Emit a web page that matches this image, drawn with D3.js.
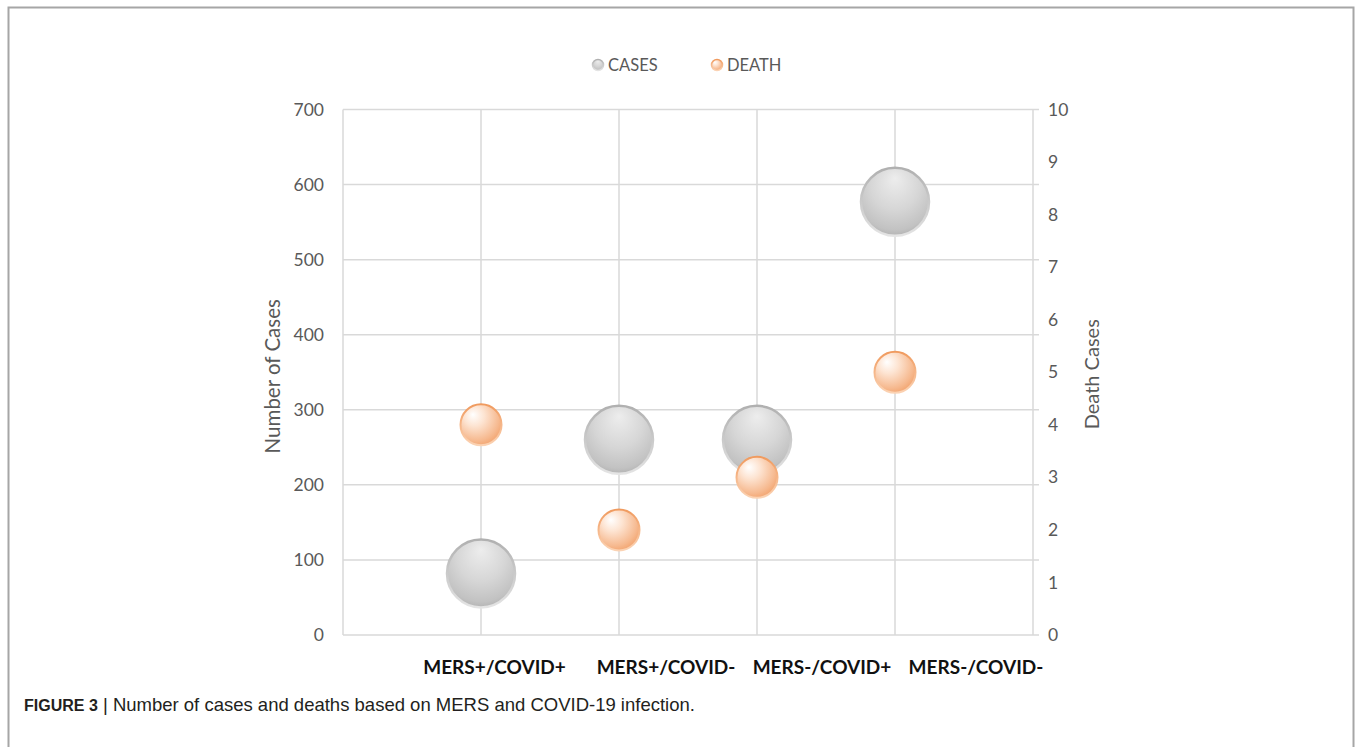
<!DOCTYPE html>
<html><head><meta charset="utf-8">
<script src="https://cdn.jsdelivr.net/npm/d3@7"></script>
<style>body{margin:0;background:#fff}svg{display:block}</style>
</head><body>
<svg id="c" width="1358" height="747"></svg>
<script>
const categories = ["MERS+/COVID+", "MERS+/COVID-", "MERS-/COVID+", "MERS-/COVID-"];
const categoryIndex = [1, 2, 3, 4];
const casesValues = [82, 260, 260, 577];
const deathValues = [4, 2, 3, 5];
const leftTicks = [0, 100, 200, 300, 400, 500, 600, 700];
const rightTicks = [0, 1, 2, 3, 4, 5, 6, 7, 8, 9, 10];
const seriesNames = ["CASES", "DEATH"];

const W = 1358, H = 747;
const plot = {l: 343, r: 1033, t: 109.5, b: 635};
const labelCenters = [494.5, 666, 822, 976]; // layout of category text boxes
const svg = d3.select("#c");
const defs = svg.append("defs");

function grad(id, stops, opts) {
  const g = defs.append("radialGradient").attr("id", id)
    .attr("cx", opts.cx).attr("cy", opts.cy).attr("r", opts.r)
    .attr("fx", opts.fx).attr("fy", opts.fy);
  stops.forEach(s => g.append("stop").attr("offset", s[0]).attr("stop-color", s[1]));
}
function lin(id, c1, c2) {
  const g = defs.append("linearGradient").attr("id", id).attr("x1", 0).attr("y1", 0).attr("x2", 0).attr("y2", 1);
  g.append("stop").attr("offset", 0).attr("stop-color", c1);
  g.append("stop").attr("offset", 1).attr("stop-color", c2);
}
grad("gGray", [[0, "#ededed"], [0.55, "#d6d6d6"], [0.9, "#c2c2c2"], [1, "#b4b4b4"]], {cx: "50%", cy: "35%", r: "65%", fx: "50%", fy: "15%"});
grad("gOrange", [[0, "#ffffff"], [0.35, "#fde4d2"], [0.8, "#f6b98f"], [1, "#f2a26c"]], {cx: "40%", cy: "35%", r: "70%", fx: "30%", fy: "25%"});
lin("sGray", "#b0b0b0", "#e4e4e4");
lin("sOrange", "#f09a5e", "#fbd3b4");

// frame
svg.append("rect").attr("x", 8.5).attr("y", 7.5).attr("width", 1345).attr("height", 760)
  .attr("fill", "none").attr("stroke", "#a6a6a6").attr("stroke-width", 2);

const x = d3.scaleLinear().domain([0, 5]).range([plot.l, plot.r]);
const yL = d3.scaleLinear().domain([0, 700]).range([plot.b, plot.t]);
const yR = d3.scaleLinear().domain([0, 10]).range([plot.b, plot.t]);

const grid = svg.append("g").attr("stroke", "#d9d9d9").attr("stroke-width", 1.5);
grid.selectAll(".h").data(leftTicks).join("line")
  .attr("x1", plot.l).attr("x2", plot.r + 6)
  .attr("y1", d => yL(d)).attr("y2", d => yL(d));
grid.selectAll(".v").data([0, ...categoryIndex, 5]).join("line")
  .attr("x1", d => x(d)).attr("x2", d => x(d))
  .attr("y1", plot.t).attr("y2", plot.b);

const tickFont = "Lato, 'Open Sans', sans-serif";
// left axis
const ax = d3.axisLeft(yL).tickValues(leftTicks).tickSize(0).tickPadding(19);
const gL = svg.append("g").attr("transform", `translate(${plot.l},0)`).call(ax);
gL.select(".domain").remove();
gL.selectAll("text").attr("font-family", tickFont).attr("font-size", 17.5).attr("fill", "#595959");
// right axis
const axR = d3.axisRight(yR).tickValues(rightTicks).tickSize(0).tickPadding(15);
const gR = svg.append("g").attr("transform", `translate(${plot.r},0)`).call(axR);
gR.select(".domain").remove();
gR.selectAll("text").attr("font-family", tickFont).attr("font-size", 17.5).attr("fill", "#595959");

// axis titles
svg.append("text").attr("transform", `translate(280,${(plot.t + plot.b) / 2 + 4}) rotate(-90)`)
  .attr("text-anchor", "middle").attr("font-family", tickFont).attr("font-size", 20.5).attr("fill", "#595959")
  .text("Number of Cases");
svg.append("text").attr("transform", `translate(1099,${(plot.t + plot.b) / 2 + 2}) rotate(-90)`)
  .attr("text-anchor", "middle").attr("font-family", tickFont).attr("font-size", 20).attr("fill", "#595959")
  .text("Death Cases");

// category labels
svg.selectAll(".cat").data(categories).join("text")
  .attr("x", (d, i) => labelCenters[i]).attr("y", 674)
  .attr("text-anchor", "middle").attr("font-family", tickFont).attr("font-weight", "bold")
  .attr("font-size", 19).attr("fill", "#111").text(d => d);

// bubbles
const rCases = 34, rDeath = 20.5;
svg.append("g").selectAll("circle").data(casesValues).join("circle")
  .attr("cx", (d, i) => x(categoryIndex[i])).attr("cy", d => yL(d)).attr("r", rCases)
  .attr("fill", "url(#gGray)").attr("stroke", "url(#sGray)").attr("stroke-width", 2.5);
svg.append("g").selectAll("circle").data(deathValues).join("circle")
  .attr("cx", (d, i) => x(categoryIndex[i])).attr("cy", d => yR(d)).attr("r", rDeath)
  .attr("fill", "url(#gOrange)").attr("stroke", "url(#sOrange)").attr("stroke-width", 2);

// legend
const leg = svg.append("g").attr("font-family", tickFont).attr("font-size", 16.5).attr("fill", "#595959");
const legX = [598, 717];
seriesNames.forEach((n, i) => {
  leg.append("circle").attr("cx", legX[i]).attr("cy", 65).attr("r", 5.5)
    .attr("fill", i ? "url(#gOrange)" : "url(#gGray)")
    .attr("stroke", i ? "url(#sOrange)" : "url(#sGray)").attr("stroke-width", 1.5);
  leg.append("text").attr("x", legX[i] + 10).attr("y", 71).text(n);
});

// caption
const cap = svg.append("text").attr("x", 24).attr("y", 711)
  .attr("font-family", "'Liberation Sans', Arial, sans-serif").attr("fill", "#231f20");
cap.append("tspan").attr("font-weight", "bold").attr("font-size", 16).text("FIGURE 3");
cap.append("tspan").attr("font-size", 18.5).text(" | Number of cases and deaths based on MERS and COVID-19 infection.");
</script>
</body></html>
